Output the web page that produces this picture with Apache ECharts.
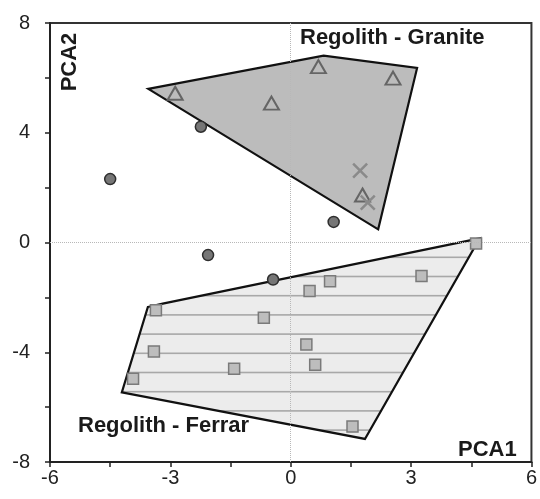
<!DOCTYPE html>
<html>
<head>
<meta charset="utf-8">
<script src="https://cdn.jsdelivr.net/npm/echarts@6/dist/echarts.min.js"></script>
<style>
  html, body { margin: 0; padding: 0; background: #fff; }
  #chart { width: 540px; height: 499px; }
</style>
</head>
<body>
<div id="chart"></div>
<script>
// axis ticks
const xTicks = [-6, -3, 0, 3, 6];
const yTicks = [-8, -4, 0, 4, 8];

// hull outlines (PCA1, PCA2)
const graniteHull = [[-3.55, 5.60], [0.82, 6.81], [3.15, 6.36], [2.18, 0.48]];
const ferrarHull = [[-3.56, -2.35], [-3.19, -2.23], [4.71, 0.15], [1.85, -7.16], [-4.21, -5.46]];

// samples
const triangles = [[-2.88, 5.44], [-0.48, 5.08], [0.69, 6.41], [2.55, 5.99], [1.79, 1.73]];
const crosses = [[1.73, 2.62], [1.92, 1.45]];
const circles = [[-4.50, 2.31], [-2.24, 4.22], [1.07, 0.75], [-2.06, -0.46], [-0.44, -1.35]];
const squares = [
  [-3.36, -2.47], [-0.67, -2.74], [-3.41, -3.97], [-1.41, -4.60], [-3.93, -4.97],
  [0.98, -1.41], [0.47, -1.77], [3.26, -1.22], [0.39, -3.72], [0.61, -4.46],
  [1.54, -6.71], [4.62, -0.04]
];

const font = '"Liberation Sans", Arial, sans-serif';

// horizontal hatch for the Ferrar hull
function hatchPattern() {
  const c = document.createElement('canvas');
  c.width = 4; c.height = 96;
  const ctx = c.getContext('2d');
  ctx.fillStyle = '#ececec';
  ctx.fillRect(0, 0, 4, 96);
  ctx.strokeStyle = '#a8a8a8';
  ctx.lineWidth = 1.6;
  [7.7, 26.9, 46.1, 65.3, 84.5].forEach(function (y) {
    ctx.beginPath(); ctx.moveTo(0, y); ctx.lineTo(4, y); ctx.stroke();
  });
  return { image: c, repeat: 'repeat' };
}

function hullSeries(pts, fill, z) {
  return {
    type: 'custom',
    z: z,
    clip: true,
    data: [0],
    encode: { x: -1, y: -1 },
    renderItem: function (params, api) {
      return {
        type: 'polygon',
        shape: { points: pts.map(function (p) { return api.coord(p); }) },
        style: { fill: fill, stroke: '#111', lineWidth: 2.2, lineJoin: 'miter' }
      };
    }
  };
}

const chart = echarts.init(document.getElementById('chart'));

const axisCommon = {
  axisLine: { show: true, onZero: false, lineStyle: { color: '#222', width: 2 } },
  axisTick: { show: true, inside: false, length: 5, lineStyle: { color: '#222', width: 1.5 } },
  minorTick: { show: true, splitNumber: 2, length: 5, lineStyle: { color: '#222', width: 1.5 } },
  splitLine: { show: false },
  axisLabel: { color: '#222', fontSize: 20, fontFamily: font }
};

const option = {
  animation: false,
  backgroundColor: '#fff',
  grid: { left: 50, right: 6, top: 23, bottom: 37, show: true, borderColor: '#333', borderWidth: 2 },
  xAxis: Object.assign({}, axisCommon, {
    type: 'value', min: xTicks[0], max: xTicks[xTicks.length - 1], interval: 3,
    axisLabel: Object.assign({}, axisCommon.axisLabel, { margin: 6 })
  }),
  yAxis: Object.assign({}, axisCommon, {
    type: 'value', min: yTicks[0], max: yTicks[yTicks.length - 1], interval: 4,
    axisLabel: Object.assign({}, axisCommon.axisLabel, { margin: 20 })
  }),
  series: [
    hullSeries(graniteHull, '#bcbcbc', 1),
    hullSeries(ferrarHull, hatchPattern(), 1),
    {
      type: 'scatter', z: 2, data: [], silent: true,
      markLine: {
        silent: true, symbol: 'none', label: { show: false },
        lineStyle: { type: 'dotted', color: '#b8b8b8', width: 1 },
        data: [{ xAxis: 0 }, { yAxis: 0 }]
      }
    },
    {
      type: 'scatter', z: 3, data: circles, symbol: 'circle', symbolSize: 11,
      itemStyle: { color: '#767676', borderColor: '#2e2e2e', borderWidth: 1.5, opacity: 1 }
    },
    {
      type: 'scatter', z: 3, data: squares, symbol: 'rect', symbolSize: 11,
      itemStyle: { color: '#bdbdbd', borderColor: '#7a7a7a', borderWidth: 1.5, opacity: 1 }
    },
    {
      type: 'scatter', z: 3, data: triangles, symbol: 'triangle', symbolSize: [15, 13],
      itemStyle: { color: 'rgba(0,0,0,0)', borderColor: '#656565', borderWidth: 2, opacity: 1 }
    },
    {
      type: 'scatter', z: 3, data: crosses, symbol: 'path://M0,0L10,10M10,0L0,10', symbolSize: 14,
      itemStyle: { color: 'rgba(0,0,0,0)', borderColor: '#8a8a8a', borderWidth: 2.5, opacity: 1 }
    }
  ],
  graphic: [
    { type: 'text', x: 300, y: 27, z: 10,
      style: { text: 'Regolith - Granite', font: 'bold 22px ' + font, fill: '#1a1a1a' } },
    { type: 'text', x: 78, y: 415, z: 10,
      style: { text: 'Regolith - Ferrar', font: 'bold 22px ' + font, fill: '#1a1a1a' } },
    { type: 'text', x: 458, y: 439, z: 10,
      style: { text: 'PCA1', font: 'bold 22px ' + font, fill: '#1a1a1a' } },
    { type: 'text', x: 70, y: 62, rotation: Math.PI / 2, z: 10,
      style: { text: 'PCA2', font: 'bold 22px ' + font, fill: '#1a1a1a', textAlign: 'center', textVerticalAlign: 'middle' } }
  ]
};

chart.setOption(option);
</script>
</body>
</html>
